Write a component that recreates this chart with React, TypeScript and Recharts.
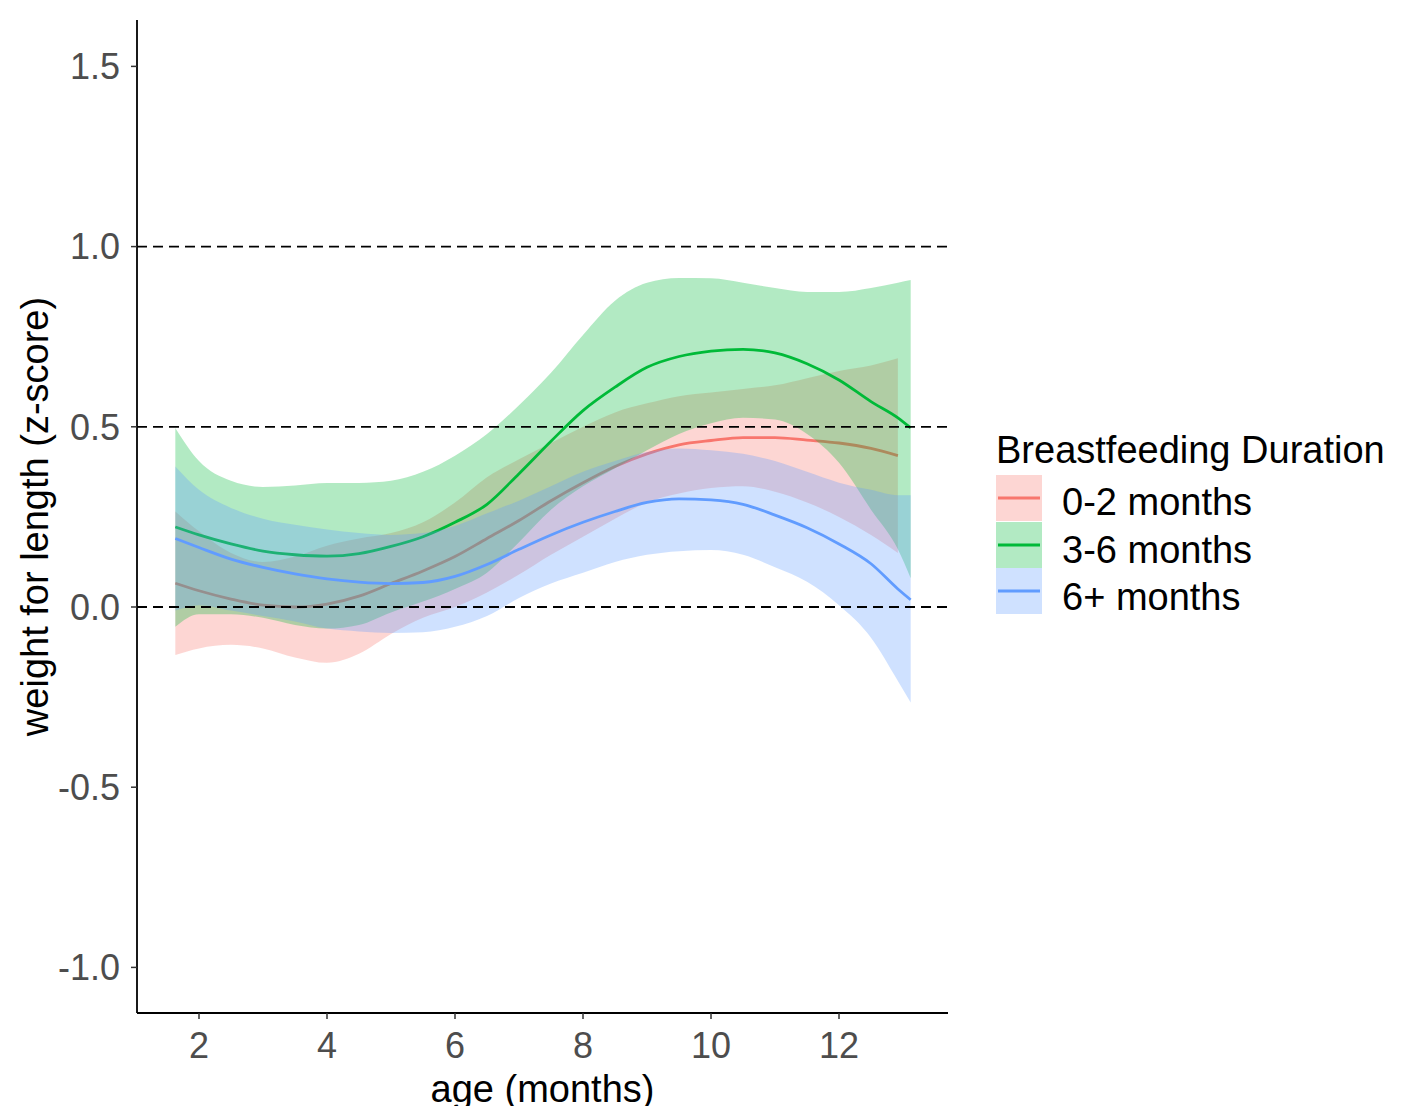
import React from "react";
import { ComposedChart, Area, XAxis, YAxis, ReferenceLine, Legend } from "recharts";

const months = [1.63, 2, 2.5, 3, 3.5, 4, 4.5, 5, 5.5, 6, 6.5, 7, 7.5, 8, 8.5, 9, 9.5, 10, 10.5, 11, 11.5, 12, 12.5, 12.92, 13.12];

const redFit = [0.066, 0.045, 0.022, 0.005, 0.0, 0.008, 0.03, 0.065, 0.1, 0.14, 0.19, 0.24, 0.295, 0.345, 0.39, 0.425, 0.45, 0.462, 0.47, 0.47, 0.463, 0.455, 0.44, 0.42, null];
const redLo = [-0.133, -0.115, -0.105, -0.115, -0.14, -0.155, -0.13, -0.075, -0.03, 0.0, 0.04, 0.09, 0.145, 0.195, 0.245, 0.29, 0.315, 0.33, 0.335, 0.32, 0.29, 0.25, 0.2, 0.15, null];
const redHi = [0.265, 0.21, 0.15, 0.125, 0.14, 0.17, 0.19, 0.205, 0.235, 0.29, 0.36, 0.41, 0.455, 0.5, 0.54, 0.565, 0.585, 0.595, 0.605, 0.615, 0.635, 0.655, 0.67, 0.69, null];

const greenFit = [0.222, 0.2, 0.175, 0.155, 0.145, 0.141, 0.148, 0.168, 0.195, 0.235, 0.285, 0.37, 0.46, 0.545, 0.61, 0.665, 0.695, 0.71, 0.715, 0.705, 0.675, 0.63, 0.57, 0.525, 0.497];
const greenLo = [-0.055, -0.02, -0.02, -0.03, -0.05, -0.06, -0.05, -0.015, 0.015, 0.05, 0.095, 0.18, 0.27, 0.335, 0.385, 0.435, 0.48, 0.51, 0.525, 0.52, 0.48, 0.4, 0.27, 0.16, 0.08];
const greenHi = [0.497, 0.405, 0.35, 0.333, 0.337, 0.344, 0.344, 0.35, 0.375, 0.42, 0.48, 0.56, 0.65, 0.755, 0.85, 0.9, 0.913, 0.912, 0.9, 0.885, 0.874, 0.874, 0.885, 0.9, 0.907];

const blueFit = [0.19, 0.165, 0.133, 0.11, 0.092, 0.078, 0.069, 0.065, 0.068, 0.085, 0.118, 0.16, 0.2, 0.235, 0.265, 0.29, 0.3, 0.297, 0.285, 0.255, 0.22, 0.175, 0.12, 0.05, 0.02];
const blueLo = [-0.01, 0.005, -0.01, -0.025, -0.04, -0.06, -0.068, -0.072, -0.07, -0.055, -0.025, 0.025, 0.065, 0.095, 0.125, 0.145, 0.155, 0.158, 0.145, 0.11, 0.07, 0.005, -0.085, -0.205, -0.265];
const blueHi = [0.39, 0.325, 0.275, 0.245, 0.228, 0.215, 0.205, 0.2, 0.205, 0.225, 0.26, 0.295, 0.335, 0.375, 0.405, 0.43, 0.44, 0.435, 0.425, 0.405, 0.375, 0.345, 0.325, 0.31, 0.31];

const seriesNames = ["0-2 months", "3-6 months", "6+ months"];
const seriesColors = ["#F8766D", "#00BA38", "#619CFF"];
const seriesKeys = ["red", "green", "blue"];

const xTicks = [2, 4, 6, 8, 10, 12];
const yTicks = [-1.0, -0.5, 0.0, 0.5, 1.0, 1.5];
const refLines = [0, 0.5, 1.0];
const xDomain = [1.03125, 13.703];
const yDomain = [-1.1265, 1.6287];

const legendTitle = "Breastfeeding Duration";
const xTitle = "age (months)";
const yTitle = "weight for length (z-score)";

const FONT = "Arial, 'Liberation Sans', Helvetica, sans-serif";

const rows = months.map((m, i) => ({
  m,
  red: redFit[i],
  redBand: redLo[i] == null ? null : [redLo[i], redHi[i]],
  green: greenFit[i],
  greenBand: greenLo[i] == null ? null : [greenLo[i], greenHi[i]],
  blue: blueFit[i],
  blueBand: blueLo[i] == null ? null : [blueLo[i], blueHi[i]],
}));

const XTitle = (props: any) => {
  const vb = props.viewBox || { x: 0, y: 0, width: 0 };
  return (
    <text x={vb.x + vb.width / 2} y={vb.y + 89} textAnchor="middle" fontSize={38} fontFamily={FONT} fill="#000">
      {xTitle}
    </text>
  );
};

const YTitle = (props: any) => {
  const vb = props.viewBox || { x: 0, y: 0, height: 0 };
  const cx = vb.x + 11;
  const cy = vb.y + vb.height / 2;
  return (
    <text x={cx} y={cy} transform={`rotate(-90, ${cx}, ${cy})`} textAnchor="middle" fontSize={38} fontFamily={FONT} fill="#000">
      {yTitle}
    </text>
  );
};

const LegendContent = () => (
  <div style={{ fontFamily: FONT, color: "#000" }}>
    <div style={{ fontSize: 38, lineHeight: "38px", whiteSpace: "nowrap", marginBottom: 6 }}>{legendTitle}</div>
    {seriesNames.map((name, i) => (
      <div key={name} style={{ display: "flex", alignItems: "center", height: 46, marginBottom: 0.5 }}>
        <svg width={46} height={46} style={{ display: "block" }}>
          <rect x={0} y={0} width={46} height={46} fill={seriesColors[i]} fillOpacity={0.3} />
          <line x1={2} x2={44} y1={23} y2={23} stroke={seriesColors[i]} strokeWidth={3} />
        </svg>
        <span style={{ fontSize: 38, lineHeight: "46px", marginLeft: 20, position: "relative", top: 4 + i, whiteSpace: "nowrap" }}>{name}</span>
      </div>
    ))}
  </div>
);

export default function App() {
  return (
    <div style={{ width: 1392, height: 1098, overflow: "visible" }}>
      <ComposedChart width={1392} height={1106} data={rows} margin={{ top: 12, right: 452, bottom: 0, left: 29 }}>
        <XAxis
          dataKey="m"
          type="number"
          domain={xDomain}
          ticks={xTicks}
          interval={0}
          allowDataOverflow
          height={101}
          tickSize={6}
          tickMargin={13}
          axisLine={{ stroke: "#000", strokeWidth: 1.8 }}
          tickLine={{ stroke: "#333", strokeWidth: 1.5 }}
          tick={{ fill: "#4D4D4D", fontSize: 36, fontFamily: FONT }}
          label={<XTitle />}
        />
        <YAxis
          type="number"
          domain={yDomain}
          ticks={yTicks}
          interval={0}
          allowDataOverflow
          width={100}
          tickSize={6}
          tickMargin={11}
          tickFormatter={(v: number) => v.toFixed(1)}
          axisLine={{ stroke: "#000", strokeWidth: 1.8 }}
          tickLine={{ stroke: "#333", strokeWidth: 1.5 }}
          tick={{ fill: "#4D4D4D", fontSize: 36, fontFamily: FONT }}
          label={<YTitle />}
        />
        {seriesKeys.map((k, i) => [
          <Area
            key={k + "Band"}
            dataKey={k + "Band"}
            type="monotone"
            stroke="none"
            fill={seriesColors[i]}
            fillOpacity={0.3}
            isAnimationActive={false}
            dot={false}
            activeDot={false}
            legendType="none"
          />,
          <Area
            key={k + "Line"}
            dataKey={k}
            name={seriesNames[i]}
            type="monotone"
            stroke={seriesColors[i]}
            strokeWidth={2.8}
            fill="none"
            isAnimationActive={false}
            dot={false}
            activeDot={false}
          />,
        ])}
        {refLines.map((y) => (
          <ReferenceLine key={y} y={y} stroke="#000" strokeWidth={1.8} strokeDasharray="10 6" />
        ))}
        <Legend
          layout="horizontal"
          verticalAlign="middle"
          align="center"
          content={<LegendContent />}
          wrapperStyle={{ left: 988, top: 423, width: 400, height: 200 }}
        />
      </ComposedChart>
    </div>
  );
}
